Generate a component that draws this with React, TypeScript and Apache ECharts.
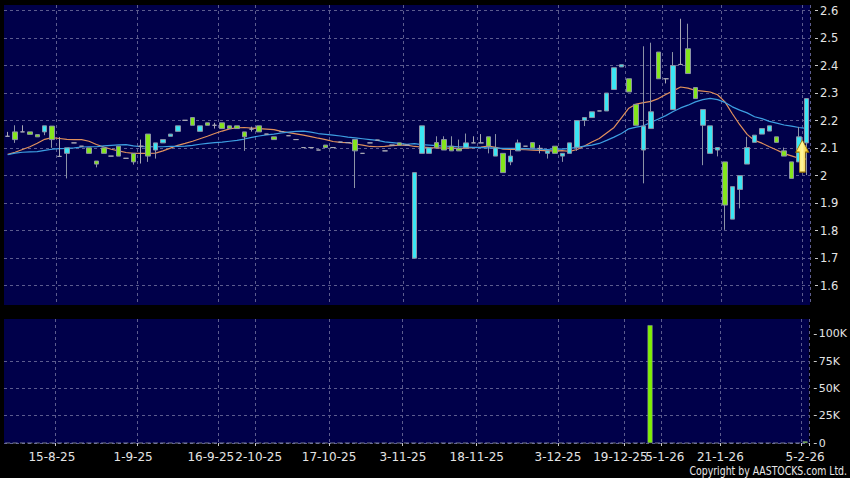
import React, { useEffect, useRef } from 'react';
import * as echarts from 'echarts';

const categories = [
  '6-8-25', '7-8-25', '8-8-25', '11-8-25', '12-8-25', '13-8-25', '14-8-25', '15-8-25', '18-8-25', '19-8-25',
  '20-8-25', '21-8-25', '22-8-25', '25-8-25', '26-8-25', '27-8-25', '28-8-25', '29-8-25', '1-9-25', '2-9-25',
  '3-9-25', '4-9-25', '5-9-25', '8-9-25', '9-9-25', '10-9-25', '11-9-25', '12-9-25', '15-9-25', '16-9-25',
  '19-9-25', '23-9-25', '26-9-25', '30-9-25', '2-10-25', '3-10-25', '6-10-25', '8-10-25', '9-10-25', '10-10-25',
  '13-10-25', '14-10-25', '15-10-25', '16-10-25', '17-10-25', '20-10-25', '21-10-25', '22-10-25', '23-10-25', '24-10-25',
  '27-10-25', '28-10-25', '30-10-25', '31-10-25', '3-11-25', '4-11-25', '5-11-25', '6-11-25', '7-11-25', '10-11-25',
  '11-11-25', '12-11-25', '13-11-25', '17-11-25', '18-11-25', '19-11-25', '20-11-25', '21-11-25', '24-11-25', '25-11-25',
  '26-11-25', '27-11-25', '28-11-25', '1-12-25', '2-12-25', '3-12-25', '4-12-25', '5-12-25', '8-12-25', '10-12-25',
  '11-12-25', '12-12-25', '15-12-25', '17-12-25', '19-12-25', '22-12-25', '23-12-25', '29-12-25', '31-12-25', '5-1-26',
  '6-1-26', '7-1-26', '8-1-26', '12-1-26', '13-1-26', '15-1-26', '19-1-26', '21-1-26', '22-1-26', '23-1-26',
  '26-1-26', '27-1-26', '28-1-26', '29-1-26', '30-1-26', '2-2-26', '3-2-26', '4-2-26', '5-2-26',
];

const xTickLabels = ['15-8-25', '1-9-25', '16-9-25', '2-10-25', '17-10-25', '3-11-25', '18-11-25', '3-12-25', '19-12-25', '5-1-26', '21-1-26', '5-2-26'];
const priceTicks = [1.6, 1.7, 1.8, 1.9, 2, 2.1, 2.2, 2.3, 2.4, 2.5, 2.6];
const volumeTicks = [0, 25000, 50000, 75000, 100000];

// [open, close, low, high]
const ohlc = [
  [2.143, 2.143, 2.143, 2.159], [2.159, 2.131, 2.119, 2.183], [2.159, 2.159, 2.159, 2.183], [2.159, 2.15, 2.15, 2.159],
  [2.149, 2.141, 2.141, 2.149], [2.159, 2.181, 2.147, 2.181], [2.18, 2.131, 2.101, 2.18], [2.07, 2.07, 2.07, 2.14],
  [2.081, 2.101, 1.99, 2.101], [2.119, 2.119, 2.119, 2.119], [2.107, 2.107, 2.107, 2.107], [2.101, 2.081, 2.081, 2.101],
  [2.053, 2.042, 2.03, 2.053], [2.101, 2.081, 2.081, 2.101], [2.071, 2.071, 2.071, 2.071], [2.107, 2.071, 2.071, 2.107],
  [2.063, 2.063, 2.063, 2.063], [2.081, 2.05, 2.04, 2.081], [2.107, 2.107, 2.044, 2.131], [2.151, 2.071, 2.05, 2.151],
  [2.093, 2.119, 2.062, 2.119], [2.119, 2.131, 2.119, 2.131], [2.143, 2.151, 2.143, 2.151], [2.161, 2.181, 2.161, 2.181],
  [2.201, 2.201, 2.201, 2.201], [2.211, 2.183, 2.183, 2.211], [2.161, 2.181, 2.161, 2.181], [2.192, 2.183, 2.183, 2.192],
  [2.183, 2.183, 2.171, 2.192], [2.192, 2.171, 2.171, 2.192], [2.181, 2.171, 2.171, 2.181], [2.181, 2.171, 2.171, 2.181],
  [2.159, 2.141, 2.09, 2.159], [2.169, 2.169, 2.16, 2.178], [2.181, 2.159, 2.159, 2.181], [2.151, 2.151, 2.151, 2.151],
  [2.141, 2.131, 2.131, 2.141], [2.16, 2.16, 2.16, 2.16], [2.145, 2.145, 2.145, 2.145], [2.131, 2.131, 2.131, 2.131],
  [2.102, 2.102, 2.102, 2.102], [2.102, 2.102, 2.102, 2.102], [2.093, 2.093, 2.093, 2.093], [2.111, 2.102, 2.102, 2.111],
  [2.102, 2.102, 2.102, 2.102], [2.122, 2.122, 2.122, 2.122], [2.12, 2.12, 2.12, 2.12], [2.131, 2.09, 1.955, 2.131],
  [2.081, 2.081, 2.081, 2.081], [2.119, 2.119, 2.119, 2.119], [2.129, 2.129, 2.129, 2.129], [2.09, 2.09, 2.09, 2.09],
  [2.111, 2.111, 2.111, 2.111], [2.119, 2.111, 2.111, 2.119], [2.111, 2.111, 2.111, 2.111], [1.7, 2.011, 1.7, 2.011],
  [2.081, 2.181, 2.081, 2.181], [2.081, 2.101, 2.081, 2.101], [2.12, 2.101, 2.101, 2.143], [2.131, 2.093, 2.093, 2.143],
  [2.107, 2.09, 2.09, 2.143], [2.099, 2.09, 2.09, 2.131], [2.101, 2.119, 2.101, 2.153], [2.119, 2.119, 2.119, 2.143],
  [2.119, 2.119, 2.119, 2.151], [2.141, 2.107, 2.081, 2.141], [2.071, 2.101, 2.071, 2.151], [2.081, 2.011, 2.011, 2.081],
  [2.05, 2.071, 2.038, 2.093], [2.09, 2.119, 2.09, 2.131], [2.107, 2.107, 2.107, 2.107], [2.12, 2.101, 2.101, 2.12],
  [2.099, 2.099, 2.081, 2.111], [2.081, 2.09, 2.062, 2.09], [2.107, 2.081, 2.081, 2.107], [2.071, 2.081, 2.05, 2.081],
  [2.081, 2.119, 2.081, 2.119], [2.103, 2.2, 2.09, 2.2], [2.201, 2.211, 2.18, 2.211], [2.211, 2.232, 2.211, 2.232],
  [2.235, 2.235, 2.235, 2.235], [2.235, 2.3, 2.235, 2.3], [2.313, 2.392, 2.313, 2.392], [2.395, 2.403, 2.395, 2.403],
  [2.352, 2.304, 2.304, 2.352], [2.259, 2.183, 2.183, 2.259], [2.093, 2.18, 1.972, 2.47], [2.171, 2.232, 2.171, 2.483],
  [2.449, 2.352, 2.352, 2.449], [2.352, 2.352, 2.335, 2.352], [2.24, 2.4, 2.24, 2.449], [2.404, 2.404, 2.404, 2.57],
  [2.461, 2.371, 2.371, 2.552], [2.32, 2.28, 2.28, 2.32], [2.183, 2.24, 2.038, 2.24], [2.081, 2.181, 2.081, 2.181],
  [2.093, 2.102, 2.07, 2.102], [2.05, 1.893, 1.803, 2.05], [1.842, 1.96, 1.842, 1.96], [1.95, 2.0, 1.881, 2.0],
  [2.042, 2.102, 2.042, 2.141], [2.121, 2.147, 2.121, 2.147], [2.151, 2.171, 2.151, 2.171], [2.162, 2.181, 2.162, 2.181],
  [2.141, 2.121, 2.121, 2.141], [2.09, 2.071, 2.071, 2.102], [2.05, 1.99, 1.99, 2.05], [2.05, 2.141, 2.05, 2.177],
  [2.119, 2.28, 2.002, 2.28],
];

const maShort = [
  2.077, 2.085, 2.095, 2.105, 2.118, 2.132, 2.138, 2.135, 2.132, 2.131,
  2.131, 2.125, 2.113, 2.104, 2.096, 2.09, 2.084, 2.081, 2.081, 2.081,
  2.082, 2.09, 2.1, 2.11, 2.117, 2.125, 2.134, 2.143, 2.153, 2.162,
  2.17, 2.174, 2.175, 2.173, 2.171, 2.169, 2.167, 2.161, 2.156, 2.152,
  2.147, 2.142, 2.136, 2.131, 2.124, 2.121, 2.12, 2.115, 2.111, 2.106,
  2.105, 2.106, 2.109, 2.111, 2.111, 2.106, 2.104, 2.102, 2.101, 2.1,
  2.1, 2.099, 2.1, 2.102, 2.104, 2.107, 2.103, 2.096, 2.095, 2.095,
  2.094, 2.093, 2.092, 2.09, 2.09, 2.091, 2.088, 2.095, 2.108, 2.122,
  2.135, 2.155, 2.175, 2.21, 2.245, 2.26, 2.265, 2.27, 2.28, 2.295,
  2.308, 2.322, 2.318, 2.31, 2.307, 2.304, 2.294, 2.268, 2.225, 2.185,
  2.15, 2.128, 2.118, 2.105, 2.093, 2.08, 2.072, 2.063, 2.06,
];

const maLong = [
  2.076, 2.082, 2.085, 2.086, 2.087, 2.092, 2.096, 2.098, 2.099, 2.101,
  2.104, 2.105, 2.105, 2.108, 2.11, 2.112, 2.113, 2.108, 2.105, 2.105,
  2.105, 2.105, 2.106, 2.106, 2.107, 2.11, 2.114, 2.117, 2.12, 2.122,
  2.125, 2.128, 2.133, 2.139, 2.144, 2.148, 2.151, 2.155, 2.158, 2.161,
  2.162, 2.158, 2.153, 2.15, 2.147, 2.144, 2.14, 2.137, 2.134, 2.131,
  2.128, 2.123, 2.12, 2.117, 2.114, 2.116, 2.113, 2.111, 2.109, 2.107,
  2.106, 2.105, 2.104, 2.103, 2.102, 2.101, 2.1, 2.099, 2.099, 2.099,
  2.098, 2.097, 2.096, 2.095, 2.097, 2.096, 2.099, 2.103, 2.107, 2.111,
  2.117, 2.128, 2.14, 2.153, 2.17, 2.176, 2.181, 2.194, 2.206, 2.218,
  2.233, 2.246, 2.256, 2.268, 2.276, 2.281, 2.276, 2.266, 2.25, 2.238,
  2.228, 2.214, 2.207, 2.197, 2.191, 2.184, 2.18, 2.175, 2.172,
];

const volume = [
  0, 0, 0, 0, 0, 0, 0, 0, 0, 0,
  0, 0, 0, 0, 0, 0, 0, 0, 0, 0,
  0, 0, 0, 0, 0, 0, 0, 0, 0, 0,
  0, 0, 0, 0, 0, 0, 0, 0, 0, 0,
  0, 0, 0, 0, 0, 0, 0, 0, 0, 0,
  0, 0, 0, 0, 0, 0, 0, 0, 0, 0,
  0, 0, 0, 0, 0, 0, 0, 0, 0, 0,
  0, 0, 0, 0, 0, 0, 0, 0, 0, 0,
  0, 0, 0, 0, 0, 0, 0, 108000, 0, 0,
  0, 0, 0, 0, 0, 0, 0, 0, 0, 0,
  0, 0, 0, 0, 0, 0, 0, 0, 1500,
];

const arrowDate = '5-2-26';
const arrowPrice = 2.071;

const FONT = "'DejaVu Sans', Verdana, sans-serif";

export default function App() {
  const ref = useRef<HTMLDivElement>(null);

  useEffect(() => {
    if (!ref.current) return;
    const chart = echarts.init(ref.current, undefined, { renderer: 'svg' });
    const tickSet = new Set(xTickLabels);
    const isTick = (_i: number, v: string) => tickSet.has(v);
    const unshifted = new Set(['5-2-26', '5-1-26', '2-10-25']);
    const crowded = new Set(['15-8-25', '1-9-25', '19-12-25']);
    const veryCrowded = new Set(['16-9-25']);
    const gridLine = { color: '#5c5c8e', width: 1, type: [3, 3] as number[] };
    const labelColor = '#e4e4e4';
    const styleKey = (v: string) => (unshifted.has(v) ? 'b' : veryCrowded.has(v) ? 'd' : crowded.has(v) ? 'c' : 'a');

    const option: any = {
      animation: false,
      backgroundColor: '#000000',
      textStyle: { fontFamily: FONT },
      grid: [
        { left: 4, right: 40, top: 5, height: 300, show: true, backgroundColor: '#00004a', borderWidth: 0 },
        { left: 4, right: 40, top: 319, height: 124, show: true, backgroundColor: '#00004a', borderWidth: 0 },
      ],
      xAxis: [
        {
          type: 'category', gridIndex: 0, data: categories, boundaryGap: true,
          axisLine: { show: false }, axisTick: { show: false }, axisLabel: { show: false },
          splitLine: { show: true, interval: isTick, lineStyle: gridLine },
        },
        {
          type: 'category', gridIndex: 1, data: categories, boundaryGap: true, offset: 3,
          axisLine: { show: false },
          axisTick: { show: true, interval: isTick, length: 3, lineStyle: { color: '#c8c8c8' } },
          axisLabel: {
            interval: isTick, margin: 5, color: labelColor, fontSize: 12, fontFamily: FONT,
            formatter: (v: string) => `{${styleKey(v)}|${v}}`,
            rich: {
              a: { color: labelColor, fontSize: 12, fontFamily: FONT, padding: [0, 7, 0, 0] },
              b: { color: labelColor, fontSize: 12, fontFamily: FONT },
              c: { color: labelColor, fontSize: 12, fontFamily: FONT, padding: [0, 15, 0, 0] },
              d: { color: labelColor, fontSize: 12, fontFamily: FONT, padding: [0, 22, 0, 0] },
            },
          },
          splitLine: { show: true, interval: isTick, lineStyle: gridLine },
        },
      ],
      yAxis: [
        {
          type: 'value', gridIndex: 0, position: 'right', min: 1.53, max: 2.62, splitNumber: 11,
          minInterval: 0.1, maxInterval: 0.1, offset: 5,
          axisLine: { show: false },
          axisTick: { show: true, length: 3, lineStyle: { color: '#c8c8c8' }, customValues: priceTicks },
          axisLabel: { color: labelColor, fontSize: 11.5, fontFamily: FONT, margin: 5, customValues: priceTicks },
          splitLine: { show: true, lineStyle: gridLine },
        },
        {
          type: 'value', gridIndex: 1, position: 'right', min: 0, max: 113700, interval: 25000, offset: 5,
          axisLine: { show: false },
          axisTick: { show: true, length: 3, lineStyle: { color: '#c8c8c8' }, customValues: volumeTicks },
          axisLabel: {
            color: labelColor, fontSize: 11, fontFamily: FONT, margin: 5, customValues: volumeTicks,
            formatter: (v: number) => (v === 0 ? '0' : `${v / 1000}K`),
          },
          splitLine: { show: true, showMinLine: true, showMaxLine: false, lineStyle: gridLine },
        },
      ],
      series: [
        {
          type: 'line', xAxisIndex: 0, yAxisIndex: 0, data: maShort, showSymbol: false, symbol: 'none',
          lineStyle: { color: '#e0905c', width: 1.2 }, z: 2, silent: true,
        },
        {
          type: 'line', xAxisIndex: 0, yAxisIndex: 0, data: maLong, showSymbol: false, symbol: 'none',
          lineStyle: { color: '#3d9fe2', width: 1.2 }, z: 2, silent: true,
        },
        {
          type: 'candlestick', xAxisIndex: 0, yAxisIndex: 0, data: ohlc, barWidth: 5, z: 3,
          itemStyle: {
            color: '#3ae6f4', color0: '#84e61c',
            borderColor: '#8c93a6', borderColor0: '#8c93a6', borderColorDoji: '#a9a9b4', borderWidth: 1,
          },
          markPoint: {
            silent: true,
            data: [
              {
                coord: [arrowDate, arrowPrice],
                symbol: 'path://M6.5,0 L13,12 L9.5,12 L9.5,32 L3.5,32 L3.5,12 L0,12 Z',
                symbolSize: [13, 32], symbolOffset: [-4, 0],
                itemStyle: {
                  color: new echarts.graphic.LinearGradient(0, 0, 1, 0, [
                    { offset: 0, color: '#ffe23a' }, { offset: 0.5, color: '#fff6a0' }, { offset: 1, color: '#f0b400' },
                  ]),
                  borderColor: '#9a7400', borderWidth: 0.8,
                },
                label: { show: false },
              },
            ],
          },
        },
        {
          type: 'bar', xAxisIndex: 1, yAxisIndex: 1, data: volume, barWidth: 5,
          itemStyle: { color: '#7ff000', borderColor: '#8c93a6', borderWidth: 0.5 },
        },
      ],
      graphic: [
        {
          type: 'text', x: 847, y: 471, scaleX: 0.78, scaleY: 1,
          style: {
            text: 'Copyright by AASTOCKS.com Ltd.', fill: '#e8e8e8', font: `12px ${FONT}`,
            align: 'right', verticalAlign: 'middle',
          },
        },
      ],
    };

    chart.setOption(option);
    return () => chart.dispose();
  }, []);

  return <div ref={ref} style={{ position: 'fixed', left: 0, top: 0, width: 850, height: 478 }} />;
}
